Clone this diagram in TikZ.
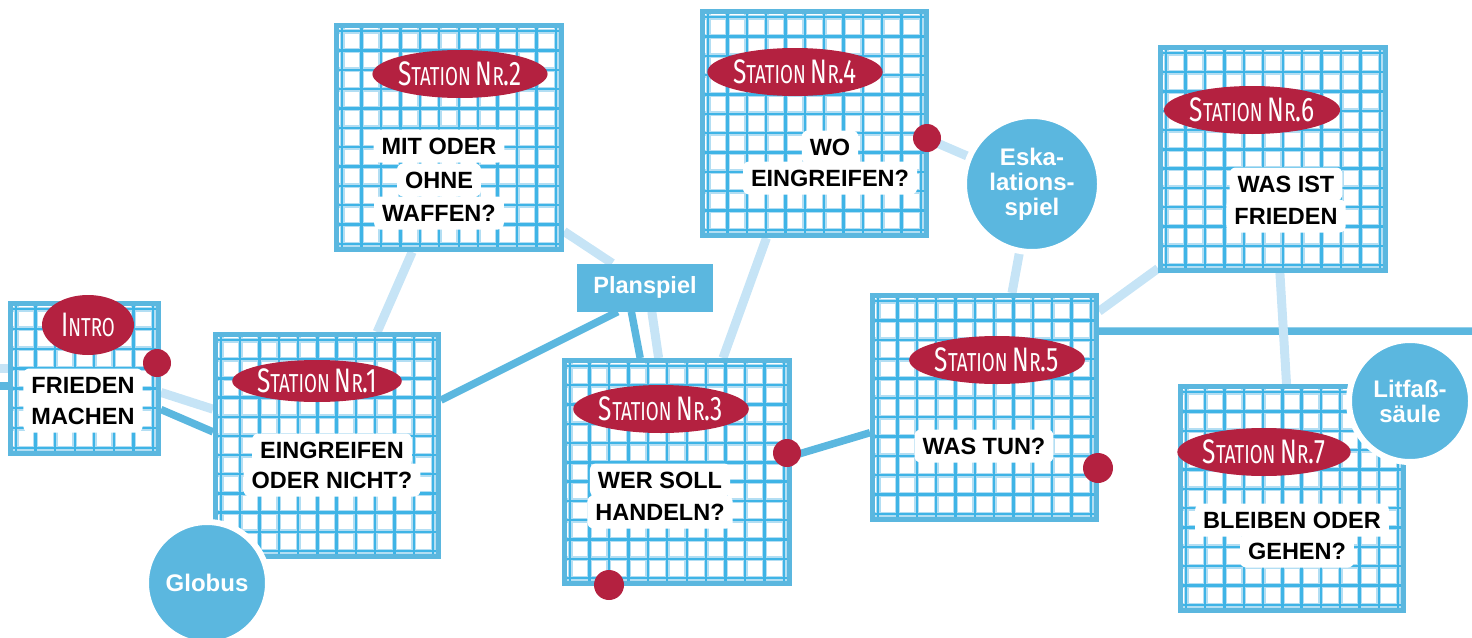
\documentclass[tikz,border=0pt]{standalone}
\usepackage{fontspec}
\usetikzlibrary{calc,shapes.geometric}
\newfontfamily\lib{Liberation Sans}
\newfontfamily\hand[FakeStretch=0.72]{Fira Sans}
\definecolor{fblue}{HTML}{5BB7DF}
\definecolor{lblue}{HTML}{C6E4F6}
\definecolor{gcore}{HTML}{3FB4E6}
\definecolor{ghalo}{HTML}{B3DEF3}
\definecolor{fred}{HTML}{B42140}
\pgfdeclarelayer{bg}
\pgfsetlayers{bg,main}
\tikzset{
 frame/.style={draw=fblue, line width=5pt, inner sep=0pt},
 gridhalo/.style={ghalo, line width=5pt},
 gridcore/.style={gcore, line width=2.4pt},
 darkline/.style={fblue, line width=7.5pt},
 lightline/.style={lblue, line width=9pt},
 qline/.style={fill=white, rounded corners=6pt, font=\lib\bfseries\fontsize{23.5}{23.5}\selectfont, text height=17pt, text depth=0pt, inner xsep=8pt, inner ysep=8pt},
 blob/.style={ellipse, fill=fred, text=white, inner sep=0pt, minimum width=143pt, minimum height=48pt, font=\hand},
 reddot/.style={circle, fill=fred, minimum size=28pt, inner sep=0pt},
 bubble/.style={circle, fill=fblue, draw=white, line width=6pt, text=white, inner sep=0pt, align=center, font=\lib\bfseries\fontsize{24}{25}\selectfont},
 planbox/.style={rectangle, fill=fblue, text=white, inner sep=0pt, minimum width=136pt, minimum height=48pt, font=\lib\bfseries\fontsize{23.5}{23.5}\selectfont},
}
\newcommand\gridsq[5]{%
 \fill[white] (#2,#3) rectangle (#4,#5);
 \pgfmathtruncatemacro\gnx{round((#4-#2-16)/19.3)}%
 \pgfmathtruncatemacro\gny{round((#5-#3-16)/19.3)}%
 \begin{scope}
  \clip (#2+5,#3+5) rectangle (#4-5,#5-5);
  \foreach \k in {0,...,\gnx}{\pgfmathsetmacro\gx{#2+8+\k*(#4-#2-16)/\gnx}\draw[gridhalo] (\gx,#3) -- (\gx,#5);}
  \foreach \k in {0,...,\gny}{\pgfmathsetmacro\gy{#3+8+\k*(#5-#3-16)/\gny}\draw[gridhalo] (#2,\gy) -- (#4,\gy);}
  \foreach \k in {0,...,\gnx}{\pgfmathsetmacro\gx{#2+8+\k*(#4-#2-16)/\gnx}\draw[gridcore] (\gx,#3) -- (\gx,#5);}
  \foreach \k in {0,...,\gny}{\pgfmathsetmacro\gy{#3+8+\k*(#5-#3-16)/\gny}\draw[gridcore] (#2,\gy) -- (#4,\gy);}
 \end{scope}
 \node[frame, minimum width={(#4-#2-5)*1pt}, minimum height={(#5-#3-5)*1pt}] (#1) at ({(#2+#4)/2},{(#3+#5)/2}) {};
}
\newcommand\bigc[1]{{\fontsize{34}{34}\selectfont #1}}
\newcommand\smc[1]{{\fontsize{26}{26}\selectfont #1}}
\newcommand\stnr[1]{\bigc{S}\smc{TATION}\hspace{5pt}\bigc{N}\smc{R}\bigc{.#1}}
\begin{document}
\begin{tikzpicture}[x=1pt,y=-1pt]
\useasboundingbox (0,0) rectangle (1472,637);
\clip (0,0) rectangle (1472,637);
% boxes
\gridsq{intro}{8}{301}{161}{456}
\gridsq{s1}{213}{332}{441}{559}
\gridsq{s2}{334}{23}{564}{252}
\gridsq{s3}{562}{358}{792}{586}
\gridsq{s4}{700}{9}{929}{238}
\gridsq{s5}{870}{293}{1099}{522}
\gridsq{s6}{1158}{45}{1388}{273}
\gridsq{s7}{1178}{384}{1406}{613}
\node[planbox] (plan) at (645,287.5) {Planspiel};
% label blobs
\node[blob, minimum width=92pt, minimum height=60pt] (b0) at (88,325) {\bigc{I}\smc{NTRO}};
\node[blob, minimum height=42pt] (b1) at (317,381) {\stnr{1}};
\node[blob] (b2) at (460,74) {\stnr{2}};
\node[blob] (b3) at (661,409) {\stnr{3}};
\node[blob] (b4) at (795,72) {\stnr{4}};
\node[blob] (b5) at (997,360) {\stnr{5}};
\node[blob] (b6) at (1252,110) {\stnr{6}};
\node[blob] (b7) at (1264,452) {\stnr{7}};
% question texts
\node[qline] (q0a) at (83,385) {FRIEDEN};
\node[qline] (q0b) at (83,416) {MACHEN};
\node[qline] (q1a) at (332,450) {EINGREIFEN};
\node[qline] (q1b) at (332,480) {ODER NICHT?};
\node[qline] (q2a) at (439,146) {MIT ODER};
\node[qline] (q2b) at (439,180) {OHNE};
\node[qline] (q2c) at (439,213) {WAFFEN?};
\node[qline] (q3a) at (660,480) {WER SOLL};
\node[qline] (q3b) at (660,512) {HANDELN?};
\node[qline] (q4a) at (830,147) {WO};
\node[qline] (q4b) at (830,178) {EINGREIFEN?};
\node[qline] (q5a) at (984,446) {WAS TUN?};
\node[qline] (q6a) at (1286,184) {WAS IST};
\node[qline] (q6b) at (1286,216) {FRIEDEN};
\node[qline] (q7a) at (1292,520) {BLEIBEN ODER};
\node[qline] (q7b) at (1297,551) {GEHEN?};
% red dots
\node[reddot] (d0) at (157,363) {};
\node[reddot] (d3a) at (787,453) {};
\node[reddot, minimum size=30pt] (d3b) at (609,585) {};
\node[reddot] (d4) at (927,138) {};
\node[reddot, minimum size=30pt] (d5) at (1098,468) {};
% bubbles
\node[bubble, minimum size=122pt] (globus) at (207,583) {Globus};
\node[bubble, minimum size=136pt] (eska) at (1032,184) {Eska-\\lations-\\spiel};
\node[bubble, minimum size=122pt] (litfass) at (1410,401) {Litfaß-\\säule};
% free ends
\coordinate (lw1) at (0,368);
\coordinate (lw2) at (0,386);
\coordinate (re) at (1472,331);
\begin{pgfonlayer}{bg}
\draw[lightline] (lw1) -- (lw1 -| intro.west);
\draw[darkline] (lw2) -- (lw2 -| intro.west);
\draw[lightline] ($(intro.north east)!0.59!(intro.south east)$) -- ($(s1.north west)!0.34!(s1.south west)$);
\draw[darkline] ($(intro.north east)!0.70!(intro.south east)$) -- ($(s1.north west)!0.44!(s1.south west)$);
\draw[darkline] ($(s1.north east)!0.3!(s1.south east)$) -- ($(plan.south west)!0.3!(plan.south east)$);
\draw[lightline] ($(s2.south west)!0.34!(s2.south east)$) -- ($(s1.north west)!0.72!(s1.north east)$);
\draw[lightline] ($(s2.north east)!0.91!(s2.south east)$) -- ($(plan.north west)!0.26!(plan.north east)$);
\draw[darkline] ($(plan.south west)!0.40!(plan.south east)$) -- ($(s3.north west)!0.34!(s3.north east)$);
\draw[lightline] ($(plan.south west)!0.55!(plan.south east)$) -- ($(s3.north west)!0.42!(s3.north east)$);
\draw[lightline] ($(s4.south west)!0.29!(s4.south east)$) -- ($(s3.north west)!0.70!(s3.north east)$);
\draw[darkline] ($(s3.north east)!0.43!(s3.south east)$) -- ($(s5.north west)!0.61!(s5.south west)$);
\draw[lightline] ($(s4.north east)!0.57!(s4.south east)$) -- (eska.center);
\draw[lightline] (eska.center) -- ($(s5.north west)!0.62!(s5.north east)$);
\draw[lightline] ($(s5.north east)!0.08!(s5.south east)$) -- ($(s6.north west)!0.98!(s6.south west)$);
\draw[darkline] ($(s5.north east)!0.166!(s5.south east)$) -- (re);
\draw[lightline] ($(s6.south west)!0.53!(s6.south east)$) -- ($(s7.north west)!0.476!(s7.north east)$);
\end{pgfonlayer}
\end{tikzpicture}
\end{document}
